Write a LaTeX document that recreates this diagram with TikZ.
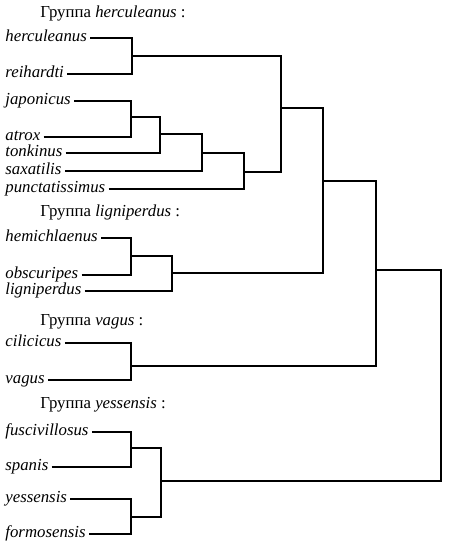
\documentclass[tikz,border=0pt]{standalone}
\usepackage{fontspec}
\setmainfont{Liberation Serif}
\begin{document}
\begin{tikzpicture}[x=0.5pt,y=-0.5pt,
  sp/.style={anchor=west, font=\fontsize{8.4}{10}\selectfont\itshape, inner xsep=1.5pt, inner ysep=0pt, text height=0.8ex, text depth=0pt},
  grp/.style={anchor=base west, font=\fontsize{8.4}{10}\selectfont, inner sep=0pt},
  br/.style={line width=0.6pt}]
\useasboundingbox (0,0) rectangle (450,546);
% group titles
\node[grp] (g1) at (40,18) {Группа \textit{herculeanus} :};
\node[grp] (g2) at (40,216.5) {Группа \textit{ligniperdus} :};
\node[grp] (g3) at (40,325) {Группа \textit{vagus} :};
\node[grp] (g4) at (40,408) {Группа \textit{yessensis} :};
% species
\node[sp] (herc) at (2,38) {herculeanus};
\node[sp] (rei) at (2,74) {reihardti};
\node[sp] (jap) at (2,101) {japonicus};
\node[sp] (atrox) at (2,137) {atrox};
\node[sp] (tonk) at (2,153) {tonkinus};
\node[sp] (sax) at (2,171) {saxatilis};
\node[sp] (punct) at (2,189) {punctatissimus};
\node[sp] (hemi) at (2,238) {hemichlaenus};
\node[sp] (obsc) at (2,275) {obscuripes};
\node[sp] (lign) at (2,291) {ligniperdus};
\node[sp] (cili) at (2,343) {cilicicus};
\node[sp] (vag) at (2,380) {vagus};
\node[sp] (fusc) at (2,432) {fuscivillosus};
\node[sp] (span) at (2,467) {spanis};
\node[sp] (yess) at (2,499) {yessensis};
\node[sp] (form) at (2,534) {formosensis};
% junctions
\coordinate (j1) at (132,56);
\coordinate (j2) at (131,117);
\coordinate (j3) at (160,134);
\coordinate (j4) at (202,153);
\coordinate (j5) at (244,172);
\coordinate (j6) at (281,108);
\coordinate (j7) at (131,256);
\coordinate (j8) at (172,273);
\coordinate (j9) at (323,181);
\coordinate (j10) at (131,366);
\coordinate (j11) at (376,270);
\coordinate (j12) at (131,448);
\coordinate (j13) at (131,517);
\coordinate (j14) at (161,481);
\coordinate (r1) at (441,270);
\coordinate (r2) at (441,481);
% tree
\draw[br] (herc.east) -| (j1);
\draw[br] (rei.east) -| (j1);
\draw[br] (jap.east) -| (j2);
\draw[br] (atrox.east) -| (j2);
\draw[br] (j2) -| (j3);
\draw[br] (tonk.east) -| (j3);
\draw[br] (j3) -| (j4);
\draw[br] (sax.east) -| (j4);
\draw[br] (j4) -| (j5);
\draw[br] (punct.east) -| (j5);
\draw[br] (j1) -| (j6);
\draw[br] (j5) -| (j6);
\draw[br] (hemi.east) -| (j7);
\draw[br] (obsc.east) -| (j7);
\draw[br] (j7) -| (j8);
\draw[br] (lign.east) -| (j8);
\draw[br] (j6) -| (j9);
\draw[br] (j8) -| (j9);
\draw[br] (cili.east) -| (j10);
\draw[br] (vag.east) -| (j10);
\draw[br] (j9) -| (j11);
\draw[br] (j10) -| (j11);
\draw[br] (fusc.east) -| (j12);
\draw[br] (span.east) -| (j12);
\draw[br] (yess.east) -| (j13);
\draw[br] (form.east) -| (j13);
\draw[br] (j12) -| (j14);
\draw[br] (j13) -| (j14);
\draw[br] (j11) -- (r1) -- (r2) -- (j14);
\end{tikzpicture}
\end{document}
